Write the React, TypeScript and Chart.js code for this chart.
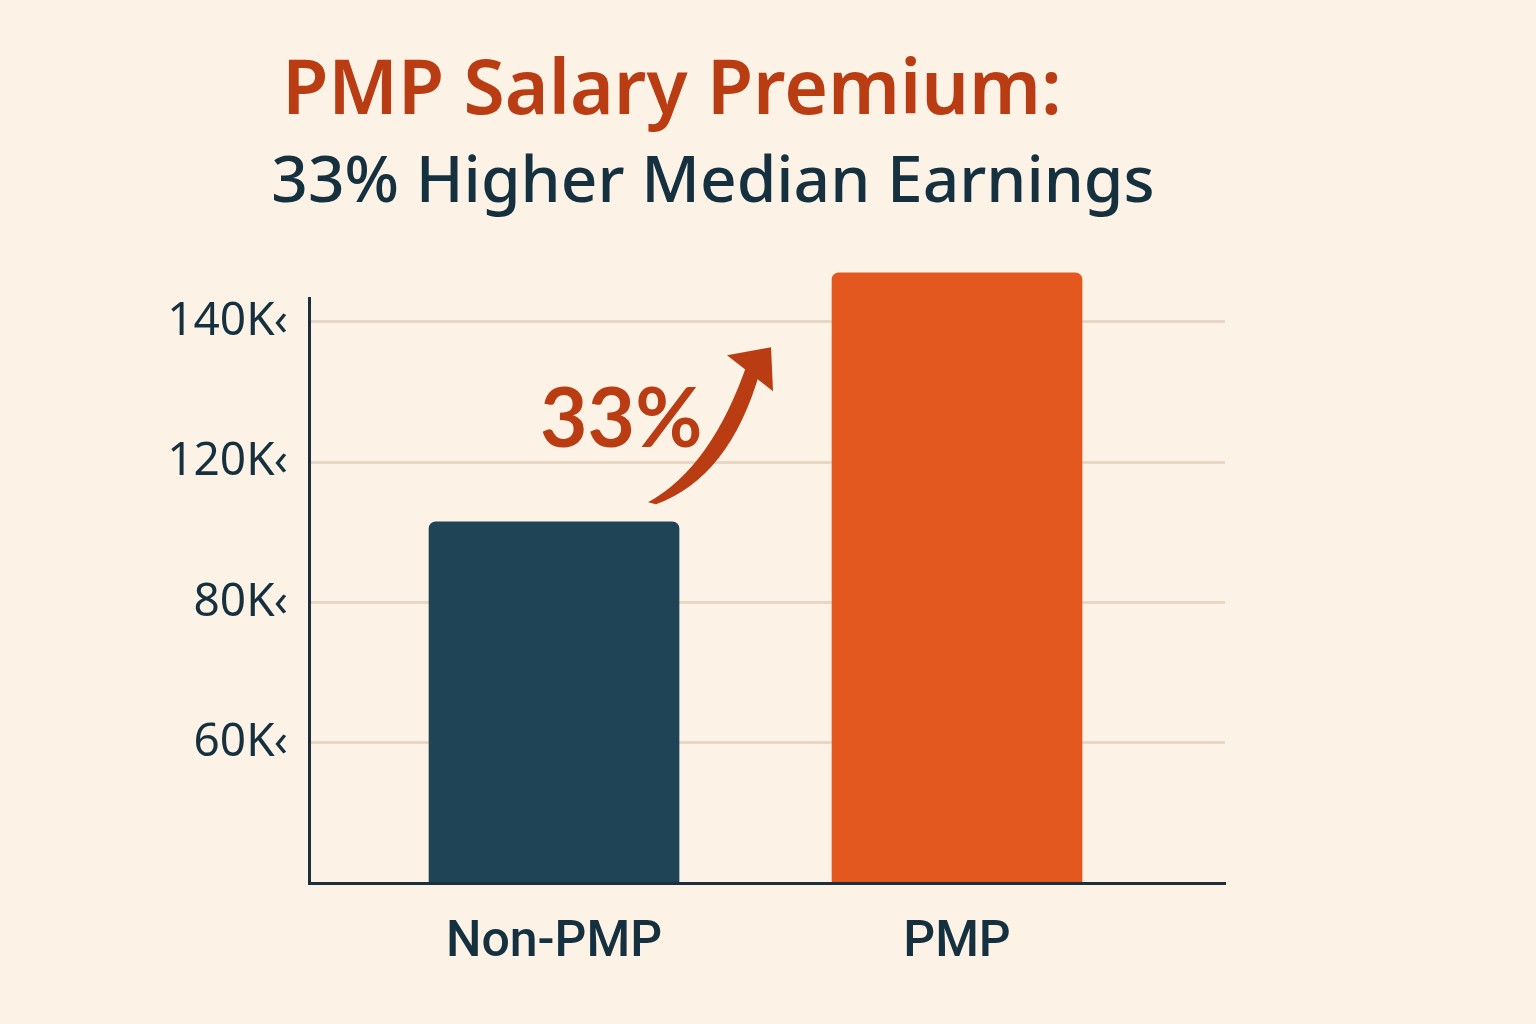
import { useEffect, useRef } from 'react';
import { Chart, registerables } from 'chart.js';

Chart.register(...registerables);

// data (salary in thousands; axis labels as printed)
const categories = ['Non-PMP', 'PMP'];
const medianSalaryK = [91.5, 127];
const barColors = ['#1f4456', '#e2581f'];
const yMin = 40;
const yTickValues = [60, 80, 100, 120];
const yTickLabels = ['60K‹', '80K‹', '120K‹', '140K‹'];
const titleText = 'PMP Salary Premium:';
const subtitleText = '33% Higher Median Earnings';
const premiumLabel = '33%';

const INK = '#15303e';
const ACCENT = '#b93c12';
const BG = '#fdf2e6';

const headerPlugin = {
  id: 'header',
  beforeDraw(chart: any) {
    const { ctx } = chart;
    ctx.save();
    ctx.fillStyle = BG;
    ctx.fillRect(0, 0, chart.width, chart.height);
    ctx.textAlign = 'center';
    ctx.textBaseline = 'alphabetic';
    ctx.fillStyle = ACCENT;
    ctx.font = '600 75px "Noto Sans"';
    ctx.fillText(titleText, 672, 114);
    ctx.fillStyle = INK;
    ctx.font = '500 64px "Noto Sans"';
    ctx.fillText(subtitleText, 713, 202);
    ctx.restore();
  }
};

// "33%" callout with the curved arrow, placed from the scales
const premiumPlugin = {
  id: 'premium',
  afterDatasetsDraw(chart: any) {
    const { ctx, scales: { x, y } } = chart;
    const ox = x.getPixelForValue(0);
    const oy = y.getPixelForValue(100);
    ctx.save();
    ctx.fillStyle = ACCENT;
    ctx.font = 'bold 82px Lato';
    ctx.textAlign = 'left';
    ctx.textBaseline = 'alphabetic';
    ctx.fillText(premiumLabel, ox - 14, oy - 15);

    ctx.beginPath();
    ctx.moveTo(ox + 94, oy + 40);
    ctx.quadraticCurveTo(ox + 158, oy + 5, ox + 194, oy - 101);
    ctx.lineTo(ox + 206, oy - 91);
    ctx.quadraticCurveTo(ox + 176, oy + 15, ox + 102, oy + 42);
    ctx.closePath();
    ctx.fill();

    ctx.beginPath();
    ctx.moveTo(ox + 173, oy - 107);
    ctx.lineTo(ox + 217, oy - 115);
    ctx.lineTo(ox + 219, oy - 71);
    ctx.closePath();
    ctx.fill();
    ctx.restore();
  }
};

export default function App() {
  const ref = useRef<HTMLCanvasElement | null>(null);

  useEffect(() => {
    if (!ref.current) return;
    const chart = new Chart(ref.current, {
      type: 'bar',
      data: {
        datasets: [{
          data: categories.map((_, i) => ({ x: i, y: medianSalaryK[i] })),
          backgroundColor: barColors,
          base: yMin,
          barThickness: 250,
          borderRadius: { topLeft: 7, topRight: 7, bottomLeft: 0, bottomRight: 0 },
          borderSkipped: false,
          clip: { left: 0, top: false, right: 0, bottom: 0 } as any
        }]
      },
      options: {
        animation: false,
        responsive: true,
        maintainAspectRatio: false,
        layout: { padding: { top: 298, right: 311, left: 0, bottom: 0 } },
        plugins: {
          legend: { display: false },
          tooltip: { enabled: false }
        },
        scales: {
          x: {
            type: 'linear',
            min: -0.608,
            max: 1.665,
            offset: false,
            grid: { display: false, drawTicks: false },
            border: { display: true, color: '#1b2f3c', width: 3, z: 1 },
            afterBuildTicks: (s: any) => { s.ticks = categories.map((_, i) => ({ value: i })); },
            afterFit: (s: any) => { s.height = 141; },
            ticks: {
              callback: (v: any) => categories[v],
              color: INK,
              font: { family: 'Roboto', size: 50, weight: 500 },
              padding: 30,
              maxRotation: 0,
              autoSkip: false
            }
          },
          y: {
            type: 'linear',
            min: yMin,
            max: 123.4,
            grid: { color: '#e9d7c5', lineWidth: 3, drawTicks: false },
            border: { display: true, color: '#1b2f3c', width: 3, z: 1 },
            afterBuildTicks: (s: any) => { s.ticks = yTickValues.map((value) => ({ value })); },
            afterFit: (s: any) => { s.width = 309; },
            ticks: {
              callback: (v: any) => yTickLabels[yTickValues.indexOf(v)],
              color: INK,
              font: { family: '"Noto Sans"', size: 46, weight: 400 },
              padding: 21
            }
          }
        }
      },
      plugins: [headerPlugin, premiumPlugin]
    });
    return () => chart.destroy();
  }, []);

  return (
    <div style={{ position: 'fixed', left: 0, top: 0, width: 1536, height: 1024, background: BG }}>
      <canvas ref={ref} aria-label="PMP salary premium bar chart" />
    </div>
  );
}
